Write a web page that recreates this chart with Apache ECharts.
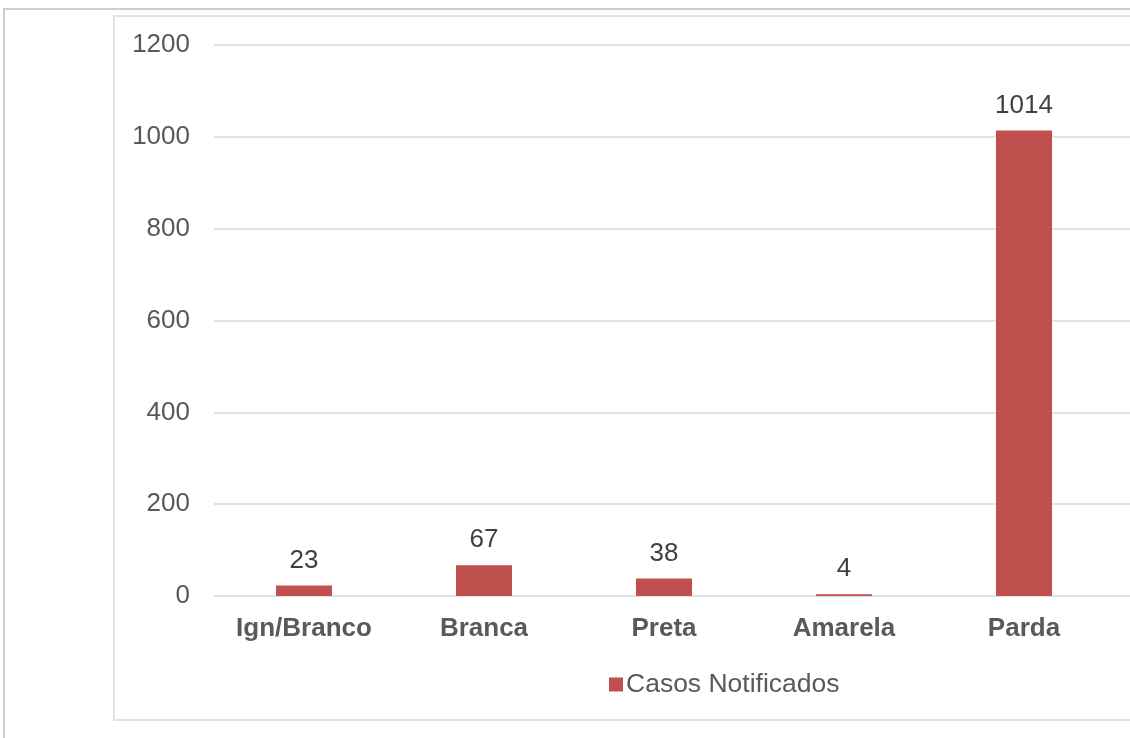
<!DOCTYPE html>
<html>
<head>
<meta charset="utf-8">
<script src="https://cdn.jsdelivr.net/npm/echarts@6/dist/echarts.min.js"></script>
<style>
html,body{margin:0;padding:0;background:#fff;}
#chart{width:1130px;height:738px;}
</style>
</head>
<body>
<div id="chart"></div>
<script>
const categories = ['Ign/Branco', 'Branca', 'Preta', 'Amarela', 'Parda'];
const casosNotificados = [23, 67, 38, 4, 1014];
const seriesName = 'Casos Notificados';
const yTicks = { min: 0, max: 1200, interval: 200 };

const chart = echarts.init(document.getElementById('chart'), null, { renderer: 'canvas' });
const font = '"Liberation Sans", Arial, sans-serif';
chart.setOption({
  animation: false,
  backgroundColor: '#ffffff',
  graphic: [
    { type: 'rect', shape: { x: 4, y: 9, width: 1200, height: 800 }, style: { fill: 'none', stroke: '#bfbfbf', lineWidth: 1.5 }, z: 0 },
    { type: 'rect', shape: { x: 114, y: 16, width: 1100, height: 704 }, style: { fill: 'none', stroke: '#d9d9d9', lineWidth: 1.5 }, z: 0 }
  ],
  grid: [
    { left: 214, width: 900, top: 45, bottom: 142 },
    { left: 214, right: 0, top: 45, bottom: 142 }
  ],
  legend: {
    data: [seriesName],
    left: 604, top: 666,
    icon: 'rect', itemWidth: 14, itemHeight: 14, itemGap: 6,
    textStyle: { fontFamily: font, fontSize: 26.5, color: '#595959', padding: [0, 0, 0, -2] }
  },
  xAxis: [
    {
      type: 'category', gridIndex: 0, data: categories,
      axisLine: { show: false }, axisTick: { show: false },
      axisLabel: { fontFamily: font, fontSize: 26, fontWeight: 'bold', color: '#595959', margin: 20 }
    },
    { type: 'category', gridIndex: 1, data: categories, show: false }
  ],
  yAxis: [
    {
      type: 'value', gridIndex: 0, min: yTicks.min, max: yTicks.max, interval: yTicks.interval,
      axisLine: { show: false }, axisTick: { show: false }, splitLine: { show: false },
      axisLabel: { fontFamily: font, fontSize: 26, color: '#595959', margin: 24, padding: [4, 0, 0, 0], formatter: v => String(v) }
    },
    {
      type: 'value', gridIndex: 1, min: yTicks.min, max: yTicks.max, interval: yTicks.interval,
      axisLine: { show: false }, axisTick: { show: false }, axisLabel: { show: false },
      splitLine: { show: true, lineStyle: { color: '#d9d9d9', width: 1.5 } }
    }
  ],
  series: [{
    name: seriesName, type: 'bar', xAxisIndex: 0, yAxisIndex: 0,
    data: casosNotificados, barWidth: 56,
    itemStyle: { color: '#c0504d' },
    label: { show: true, position: 'top', distance: 12, fontFamily: font, fontSize: 26, color: '#404040' }
  }]
});
</script>
</body>
</html>
